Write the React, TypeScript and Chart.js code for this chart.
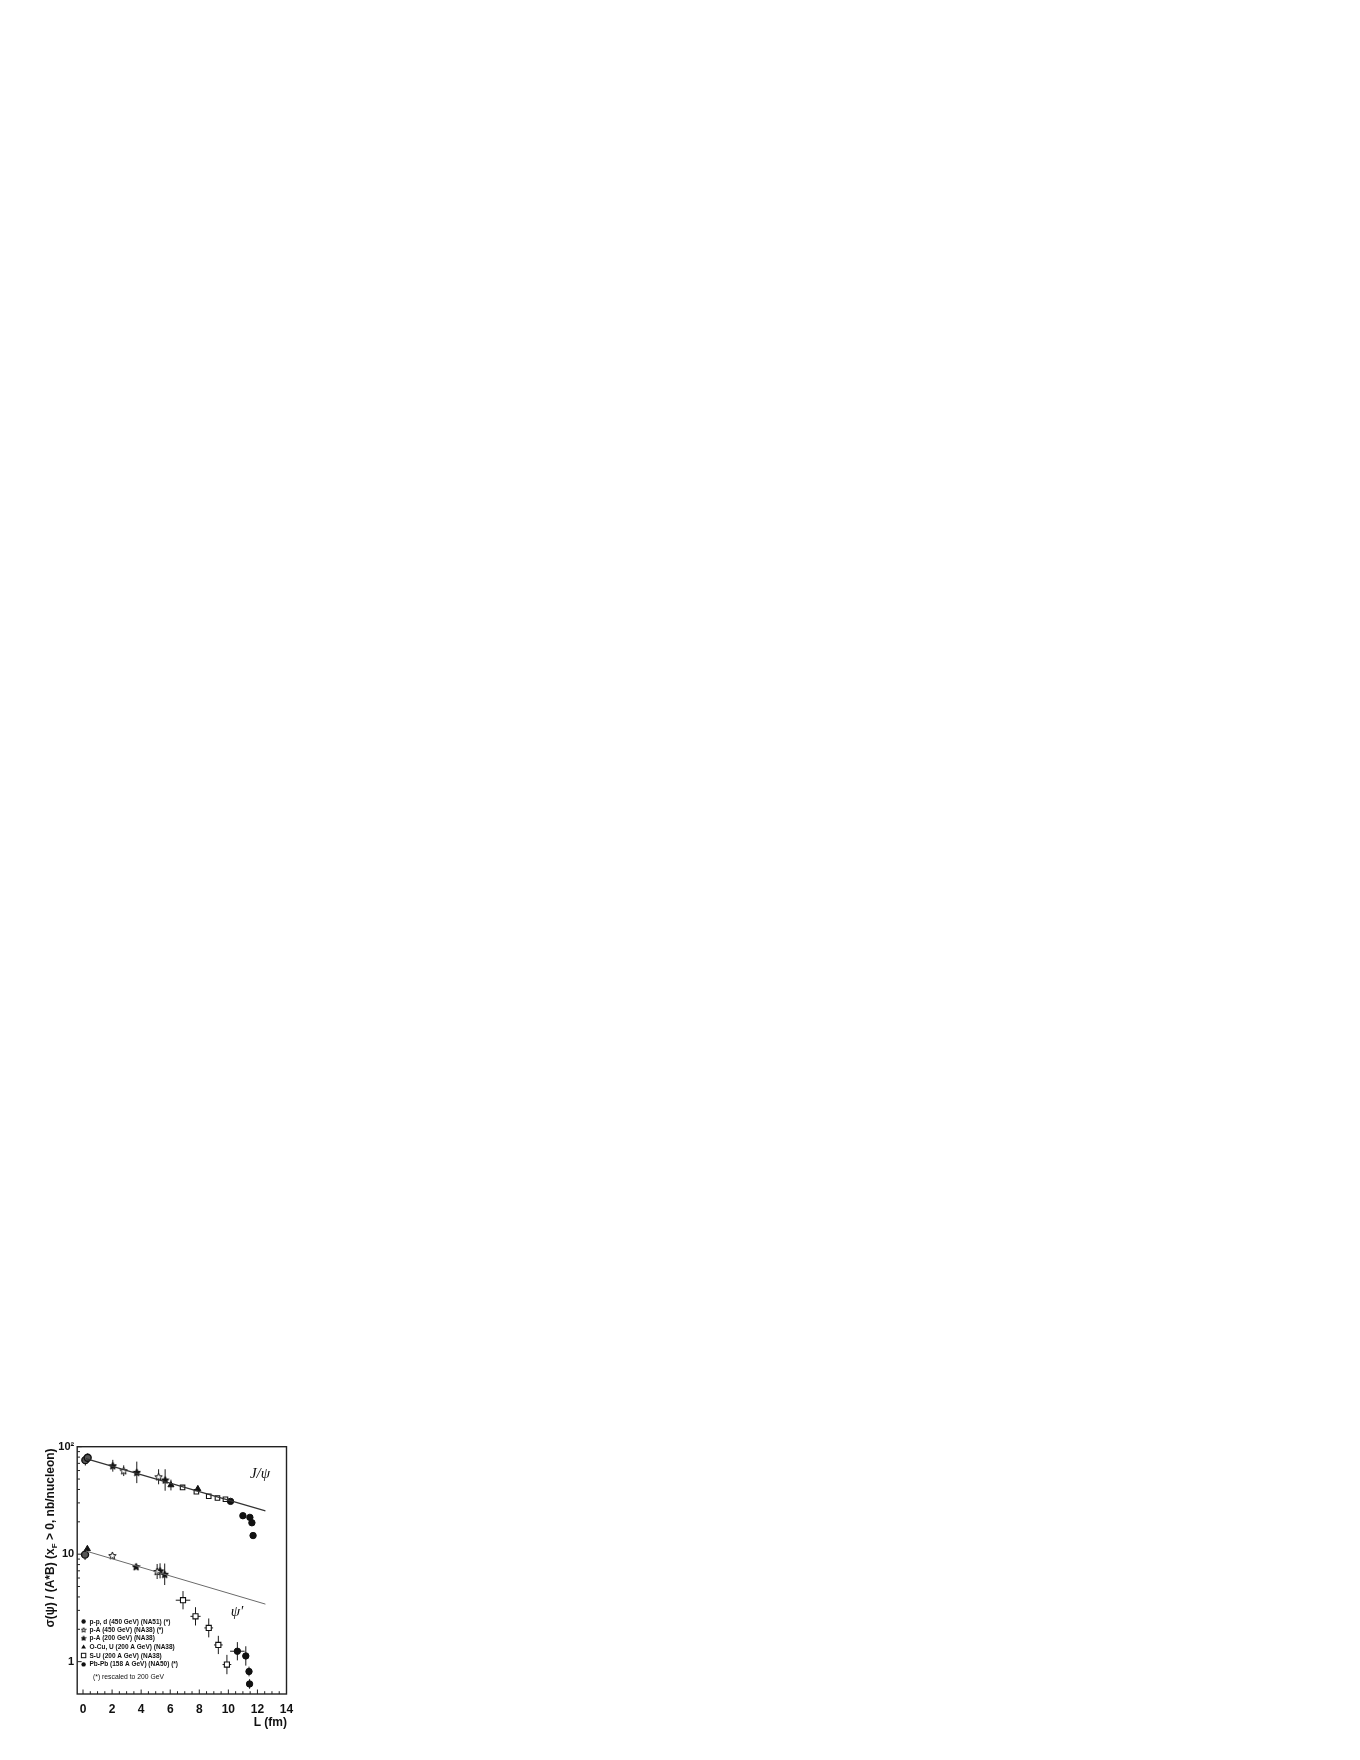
import React, { useEffect, useRef } from 'react';
import { Chart, registerables } from 'chart.js';

Chart.register(...registerables);

const FONT = "'Liberation Sans', Arial, Helvetica, sans-serif";
const SERIF = "'Liberation Serif', 'DejaVu Serif', serif";

// ---------- axes ----------
const X_MIN = -0.4;
const X_MAX = 14;
const X_TICKS = [0, 2, 4, 6, 8, 10, 12, 14];
const Y_MIN = 0.5;
const Y_MAX = 100;
const Y_TICKS = [1, 10, 100];
const Y_TICK_LABELS = ['1', '10', '10\u00B2'];

// ---------- J/psi (upper) ----------
const JPSI_PPD_X = [0.16, 0.32];
const JPSI_PPD_Y = [75, 79];
const JPSI_PPD_YERR = [0.05, 0.04];

const JPSI_PA450_X = [2.8, 5.2];
const JPSI_PA450_Y = [59.8, 52.5];
const JPSI_PA450_YERR = [0.05, 0.07];

const JPSI_PA200_X = [2.05, 3.7, 5.65];
const JPSI_PA200_Y = [66.5, 57.7, 49];
const JPSI_PA200_YERR = [0.055, 0.1, 0.1];

const JPSI_OCUU_X = [6.05, 7.9];
const JPSI_OCUU_Y = [44, 40.5];
const JPSI_OCUU_YERR = [0.05, 0.03];

const JPSI_SU_X = [6.85, 7.8, 8.65, 9.25, 9.8];
const JPSI_SU_Y = [41.8, 38.1, 34.6, 33.3, 32.4];
const JPSI_SU_YERR = [0.015, 0.015, 0.015, 0.015, 0.015];

const JPSI_PBPB_X = [10.15, 11.0, 11.48, 11.62, 11.7];
const JPSI_PBPB_Y = [31, 22.8, 22.0, 19.6, 14.9];
const JPSI_PBPB_YERR = [0.015, 0.015, 0.015, 0.015, 0.015];

// ---------- psi' (lower) ----------
const PSIP_PPD_X = [0.14];
const PSIP_PPD_Y = [9.9];
const PSIP_PPD_YERR = [0.05];

const PSIP_OCUU_X = [0.3];
const PSIP_OCUU_Y = [11.2];
const PSIP_OCUU_YERR = [0.03];

const PSIP_PA450_X = [2.02, 5.1];
const PSIP_PA450_Y = [9.7, 6.9];
const PSIP_PA450_YERR = [0.03, 0.07];

const PSIP_PA200_X = [3.65, 5.3, 5.62];
const PSIP_PA200_Y = [7.65, 7.0, 6.5];
const PSIP_PA200_YERR = [0.02, 0.07, 0.1];

const PSIP_SU_X = [6.88, 7.74, 8.65, 9.31, 9.9];
const PSIP_SU_Y = [3.73, 2.64, 2.06, 1.43, 0.94];
const PSIP_SU_YERR = [0.085, 0.085, 0.088, 0.085, 0.09];
const PSIP_SU_XERR = [0.5, 0.35, 0.3, 0.3, 0.3];

const PSIP_PBPB_X = [10.62, 11.2, 11.42, 11.46];
const PSIP_PBPB_Y = [1.25, 1.13, 0.81, 0.62];
const PSIP_PBPB_YERR = [0.085, 0.09, 0.045, 0.045];
const PSIP_PBPB_XERR = [0.5, 0.22, 0.05, 0.05];

// ---------- fit lines ----------
const FIT_X = [0.2, 12.55];
const JPSI_FIT = [77.5, 25.3];
const PSIP_FIT = [10.7, 3.43];

// ---------- text ----------
const LEGEND_LABELS = [
  'p-p, d (450 GeV) (NA51) (*)',
  'p-A (450 GeV) (NA38) (*)',
  'p-A (200 GeV) (NA38)',
  'O-Cu, U (200 A GeV) (NA38)',
  'S-U (200 A GeV) (NA38)',
  'Pb-Pb (158 A GeV) (NA50) (*)',
];
const LEGEND_NOTE = '(*) rescaled to 200 GeV';
const X_TITLE = 'L (fm)';
const Y_TITLE_A = '\u03C3(\u03C8) / (A*B) (x';
const Y_TITLE_SUB = 'F';
const Y_TITLE_B = ' > 0, nb/nucleon)';
const LABEL_JPSI = 'J/\u03C8';
const LABEL_PSIP = "\u03C8'";

// ---------- geometry (canvas coords) ----------
const CW = 320;
const CH = 360;
const AREA_LEFT = 77.2;
const AREA_RIGHT = 286.5;
const AREA_TOP = 46.7;
const AREA_BOTTOM = 294;

function pts(xs: number[], ys: number[]) {
  return xs.map((x, i) => ({ x, y: ys[i] }));
}

function makeStar(size: number, filled: boolean) {
  const c = document.createElement('canvas');
  c.width = size;
  c.height = size;
  const ctx = c.getContext('2d')!;
  const cx = size / 2;
  const cy = size / 2 + size * 0.04;
  const R = size / 2 - 0.6;
  const r = R * 0.45;
  ctx.beginPath();
  for (let i = 0; i < 10; i++) {
    const a = -Math.PI / 2 + (i * Math.PI) / 5;
    const rad = i % 2 === 0 ? R : r;
    ctx.lineTo(cx + rad * Math.cos(a), cy + rad * Math.sin(a));
  }
  ctx.closePath();
  ctx.fillStyle = filled ? '#111' : '#fff';
  ctx.fill();
  ctx.strokeStyle = '#111';
  ctx.lineWidth = 1;
  ctx.stroke();
  return c;
}

function drawSymbol(ctx: CanvasRenderingContext2D, kind: string, x: number, y: number, s: number, openStar: HTMLCanvasElement, filledStar: HTMLCanvasElement) {
  ctx.save();
  ctx.strokeStyle = '#111';
  ctx.fillStyle = '#111';
  ctx.lineWidth = 1;
  if (kind === 'circle') {
    ctx.beginPath();
    ctx.arc(x, y, s, 0, Math.PI * 2);
    ctx.fill();
  } else if (kind === 'ostar') {
    ctx.drawImage(openStar, x - openStar.width / 2, y - openStar.height / 2);
  } else if (kind === 'fstar') {
    ctx.drawImage(filledStar, x - filledStar.width / 2, y - filledStar.height / 2);
  } else if (kind === 'tri') {
    ctx.beginPath();
    ctx.moveTo(x, y - s * 1.1);
    ctx.lineTo(x + s * 1.1, y + s * 0.8);
    ctx.lineTo(x - s * 1.1, y + s * 0.8);
    ctx.closePath();
    ctx.fill();
  } else if (kind === 'square') {
    ctx.fillStyle = '#fff';
    ctx.fillRect(x - s, y - s, 2 * s, 2 * s);
    ctx.strokeRect(x - s, y - s, 2 * s, 2 * s);
  }
  ctx.restore();
}

export default function App() {
  const ref = useRef<HTMLCanvasElement>(null);

  useEffect(() => {
    const openStar = makeStar(9, false);
    const filledStar = makeStar(9, true);
    const openStarSm = makeStar(6, false);
    const filledStarSm = makeStar(6, true);

    const base = { showLine: false, borderColor: '#111', borderWidth: 1 };

    const scatter = (label: string, xs: number[], ys: number[], yErr: number[], style: any, xErr?: number[]) => ({
      ...base,
      type: 'scatter' as const,
      label,
      data: pts(xs, ys),
      yErrDex: yErr,
      xErr: xErr || null,
      ...style,
    });

    const circleP = { pointStyle: 'circle', pointRadius: 3.5, backgroundColor: '#555', borderWidth: 1.4 };
    const pbStyle = { pointStyle: 'circle', pointRadius: 3.2, backgroundColor: '#111' };
    const triStyle = { pointStyle: 'triangle', pointRadius: 3.5, backgroundColor: '#111' };
    const sqStyle = { pointStyle: 'rect', pointRadius: 3.2, backgroundColor: '#fff', borderWidth: 1.1 };
    const ostarStyle = { pointStyle: openStar, pointRadius: 4 };
    const fstarStyle = { pointStyle: filledStar, pointRadius: 4 };

    const datasets: any[] = [
      {
        type: 'line', label: 'J/psi fit', data: pts(FIT_X, JPSI_FIT), showLine: true,
        borderColor: '#333', borderWidth: 1.1, pointRadius: 0, fill: false,
      },
      {
        type: 'line', label: "psi' fit", data: pts(FIT_X, PSIP_FIT), showLine: true,
        borderColor: '#6a6a6a', borderWidth: 1, pointRadius: 0, fill: false,
      },
      scatter('J/psi p-p,d', JPSI_PPD_X, JPSI_PPD_Y, JPSI_PPD_YERR, circleP),
      scatter('J/psi p-A 450', JPSI_PA450_X, JPSI_PA450_Y, JPSI_PA450_YERR, ostarStyle),
      scatter('J/psi p-A 200', JPSI_PA200_X, JPSI_PA200_Y, JPSI_PA200_YERR, fstarStyle),
      scatter('J/psi O-Cu,U', JPSI_OCUU_X, JPSI_OCUU_Y, JPSI_OCUU_YERR, triStyle),
      scatter('J/psi S-U', JPSI_SU_X, JPSI_SU_Y, JPSI_SU_YERR, sqStyle),
      scatter('J/psi Pb-Pb', JPSI_PBPB_X, JPSI_PBPB_Y, JPSI_PBPB_YERR, pbStyle),
      scatter("psi' p-p,d", PSIP_PPD_X, PSIP_PPD_Y, PSIP_PPD_YERR, circleP),
      scatter("psi' O-Cu,U", PSIP_OCUU_X, PSIP_OCUU_Y, PSIP_OCUU_YERR, triStyle),
      scatter("psi' p-A 450", PSIP_PA450_X, PSIP_PA450_Y, PSIP_PA450_YERR, ostarStyle),
      scatter("psi' p-A 200", PSIP_PA200_X, PSIP_PA200_Y, PSIP_PA200_YERR, fstarStyle),
      scatter("psi' S-U", PSIP_SU_X, PSIP_SU_Y, PSIP_SU_YERR, { ...sqStyle, pointRadius: 3.6 }, PSIP_SU_XERR),
      scatter("psi' Pb-Pb", PSIP_PBPB_X, PSIP_PBPB_Y, PSIP_PBPB_YERR, pbStyle, PSIP_PBPB_XERR),
    ];

    const errorBars = {
      id: 'errorBars',
      beforeDatasetsDraw(chart: any) {
        const { ctx } = chart;
        const xs = chart.scales.x;
        const ys = chart.scales.y;
        ctx.save();
        ctx.strokeStyle = '#1a1a1a';
        ctx.lineWidth = 1;
        chart.data.datasets.forEach((ds: any) => {
          if (!ds.yErrDex) return;
          ds.data.forEach((p: any, i: number) => {
            const px = xs.getPixelForValue(p.x);
            const py = ys.getPixelForValue(p.y);
            const e = ds.yErrDex[i];
            const yTop = ys.getPixelForValue(p.y * Math.pow(10, e));
            const yBot = ys.getPixelForValue(p.y / Math.pow(10, e));
            ctx.beginPath();
            ctx.moveTo(px, yTop);
            ctx.lineTo(px, yBot);
            ctx.stroke();
            if (ds.xErr) {
              const xl = xs.getPixelForValue(p.x - ds.xErr[i]);
              const xr = xs.getPixelForValue(p.x + ds.xErr[i]);
              ctx.beginPath();
              ctx.moveTo(xl, py);
              ctx.lineTo(xr, py);
              ctx.stroke();
            }
          });
        });
        ctx.restore();
      },
    };

    const decorations = {
      id: 'decorations',
      afterDraw(chart: any) {
        const { ctx, chartArea } = chart;
        const xs = chart.scales.x;
        const ys = chart.scales.y;
        const { left, right, top, bottom } = chartArea;
        ctx.save();
        // frame
        ctx.strokeStyle = '#222';
        ctx.lineWidth = 1.4;
        ctx.strokeRect(left, top, right - left, bottom - top);

        // x ticks (inward)
        ctx.lineWidth = 1;
        for (let v = 0; v <= X_MAX + 1e-9; v += 0.5) {
          const px = xs.getPixelForValue(v);
          const major = Math.abs(v - Math.round(v / 2) * 2) < 1e-9;
          const len = major ? 4.5 : 2.8;
          ctx.beginPath();
          ctx.moveTo(px, bottom);
          ctx.lineTo(px, bottom - len);
          ctx.stroke();
        }
        // y ticks (inward), log minor
        for (let dec = 0.1; dec <= 10; dec *= 10) {
          for (let m = 1; m <= 9; m++) {
            const v = m * dec * 10;
            if (v < Y_MIN - 1e-9 || v > Y_MAX + 1e-9) continue;
            const py = ys.getPixelForValue(v);
            const len = m === 1 ? 4.5 : 2.8;
            ctx.beginPath();
            ctx.moveTo(left, py);
            ctx.lineTo(left + len, py);
            ctx.stroke();
          }
        }

        ctx.fillStyle = '#111';
        // y-axis title with subscript
        ctx.save();
        ctx.translate(51, 138);
        ctx.rotate(-Math.PI / 2);
        const big = `bold 12px ${FONT}`;
        const small = `bold 8px ${FONT}`;
        ctx.font = big;
        const wA = ctx.measureText(Y_TITLE_A).width;
        const wB = ctx.measureText(Y_TITLE_B).width;
        ctx.font = small;
        const wS = ctx.measureText(Y_TITLE_SUB).width;
        let cx = -(wA + wS + wB) / 2;
        ctx.textBaseline = 'middle';
        ctx.textAlign = 'left';
        ctx.font = big;
        ctx.fillText(Y_TITLE_A, cx, 0);
        cx += wA;
        ctx.font = small;
        ctx.fillText(Y_TITLE_SUB, cx, 3.3);
        cx += wS;
        ctx.font = big;
        ctx.fillText(Y_TITLE_B, cx, 0);
        ctx.restore();

        // x-axis title
        ctx.font = `bold 12px ${FONT}`;
        ctx.textAlign = 'right';
        ctx.textBaseline = 'middle';
        ctx.fillText(X_TITLE, 287, 323);

        // curve labels
        ctx.font = `italic 15px ${SERIF}`;
        ctx.textAlign = 'center';
        ctx.fillText(LABEL_JPSI, 260, 74);
        ctx.fillText(LABEL_PSIP, 237, 212);

        // legend
        const rows = [221.5, 229.8, 238.2, 246.8, 255.5, 264.4];
        const kinds = ['circle', 'ostar', 'fstar', 'tri', 'square', 'circle'];
        ctx.font = `bold 6.5px ${FONT}`;
        ctx.textAlign = 'left';
        rows.forEach((ry, i) => {
          drawSymbol(ctx, kinds[i], 83.6, ry, 2.2, openStarSm, filledStarSm);
          ctx.fillStyle = '#111';
          ctx.fillText(LEGEND_LABELS[i], 89.5, ry + 0.3);
        });
        ctx.font = `6.8px ${FONT}`;
        ctx.fillText(LEGEND_NOTE, 93, 277);
        ctx.restore();
      },
    };

    const chart = new Chart(ref.current!, {
      type: 'scatter',
      data: { datasets },
      plugins: [errorBars, decorations],
      options: {
        animation: false,
        responsive: false,
        devicePixelRatio: 1,
        layout: { padding: { left: 0, top: AREA_TOP, right: CW - AREA_RIGHT, bottom: 0 } },
        plugins: { legend: { display: false }, tooltip: { enabled: false }, title: { display: false } },
        scales: {
          x: {
            type: 'linear',
            min: X_MIN,
            max: X_MAX,
            afterBuildTicks: (s: any) => { s.ticks = X_TICKS.map((v) => ({ value: v })); },
            afterFit: (s: any) => { s.height = CH - AREA_BOTTOM; },
            grid: { display: false, drawTicks: false },
            border: { display: false },
            ticks: {
              autoSkip: false,
              maxRotation: 0,
              padding: 8,
              color: '#111',
              font: { family: FONT, size: 12, weight: 'bold' },
              callback: (v: any) => String(v),
            },
          },
          y: {
            type: 'logarithmic',
            min: Y_MIN,
            max: Y_MAX,
            afterBuildTicks: (s: any) => { s.ticks = Y_TICKS.map((v) => ({ value: v })); },
            afterFit: (s: any) => { s.width = AREA_LEFT; },
            grid: { display: false, drawTicks: false },
            border: { display: false },
            ticks: {
              autoSkip: false,
              padding: 3,
              color: '#111',
              font: { family: FONT, size: 11, weight: 'bold' },
              callback: (v: any) => {
                const i = Y_TICKS.indexOf(Number(v));
                return i >= 0 ? Y_TICK_LABELS[i] : '';
              },
            },
          },
        },
      } as any,
    } as any);
    return () => chart.destroy();
  }, []);

  return (
    <div style={{ position: 'absolute', left: 0, top: 1400, width: CW, height: CH }}>
      <canvas ref={ref} width={CW} height={CH} style={{ width: CW, height: CH, display: 'block' }} />
    </div>
  );
}
